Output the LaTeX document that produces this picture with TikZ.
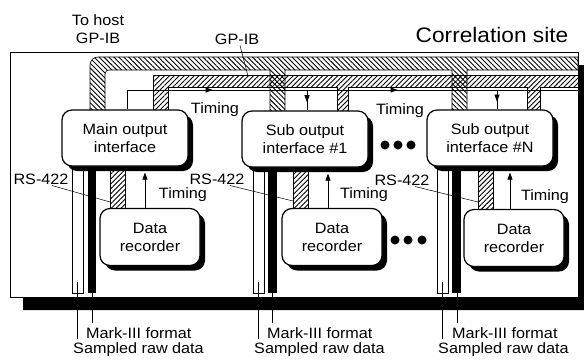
\documentclass[tikz,border=0pt]{standalone}
\usepackage{fontspec}
\setmainfont{Liberation Sans}[FakeStretch=1.08]
\usetikzlibrary{arrows.meta,patterns.meta,shadows,decorations.markings,backgrounds}
\newcommand{\diagfont}{\fontsize{15}{18}\selectfont}

\begin{document}
\begin{tikzpicture}[x=1pt,y=-1pt,>={Triangle[length=7pt,width=5pt]},
  iface/.style={draw,line width=1.2pt,rounded corners=10pt,fill=white,align=center,minimum width=126pt,minimum height=56pt,font=\diagfont,
    drop shadow={shadow xshift=5pt,shadow yshift=-5pt,fill=black,opacity=1}},
  rec/.style={iface,minimum width=100pt,minimum height=57pt},
  lbl/.style={inner sep=1pt,font=\diagfont,align=center},
  wire/.style={line width=.7pt},
  lead/.style={line width=.5pt},
  outerbus/.style={draw,line width=.6pt,pattern={Lines[angle=-45,distance=3.5pt,line width=.9pt]}},
  innerbus/.style={draw,line width=.6pt,pattern={Lines[angle=45,distance=3.5pt,line width=.9pt]}},
  midarr/.style={postaction={decorate},decoration={markings,mark=at position #1 with {\arrow{Triangle[length=7pt,width=5pt]}}}}]
\useasboundingbox (0,0) rectangle (584,359);
% interfaces and recorders
\node[iface] (main) at (125,138) {Main output\\interface};
\node[iface] (sub1) at (305,139) {Sub output\\interface \#1};
\node[iface] (subN) at (490,138) {Sub output\\interface \#N};
\node[rec] (rec1) at (150,237) {Data\\recorder};
\node[rec] (rec2) at (332,237) {Data\\recorder};
\node[rec] (recN) at (514,238) {Data\\recorder};
\coordinate (tl) at (127,90);
\coordinate (tr) at (578,90);
\coordinate (d1) at (307,90);
\coordinate (dN) at (497,90);
\begin{scope}[on background layer]
% site frame with shadow
\fill (578,65) -- (584,65) -- (584,310) -- (23,310) -- (23,297) -- (578,297) -- cycle;
\draw[line width=.8pt] (10,52) rectangle (578,297);
% GP-IB buses
\draw[outerbus] (90,112) [rounded corners=8pt] -- (90,57) [sharp corners] -- (578,57) -- (578,70) -- (467,70) -- (467,112) -- (452,112) -- (452,70)
  -- (285,70) -- (285,112) -- (270,112) -- (270,70) [rounded corners=4pt] -- (105,70) [sharp corners] -- (105,112) -- cycle;
\draw[innerbus] (153,112) -- (153,75) -- (578,75) -- (578,87) -- (540,87) -- (540,112) -- (527,112) -- (527,87)
  -- (348,87) -- (348,112) -- (337,112) -- (337,87) -- (168,87) -- (168,112) -- cycle;
% raw data, Mark-III and RS-422 lines
\draw[lead,fill=white] (72,160) rectangle (83,293);
\fill (88,160) rectangle (96,293);
\draw[innerbus] (110,160) rectangle (125,212);
\draw[lead,fill=white] (253,160) rectangle (264,293);
\fill (268,160) rectangle (277,293);
\draw[innerbus] (293,160) rectangle (308,212);
\draw[lead,fill=white] (437,160) rectangle (448,293);
\fill (452,160) rectangle (461,293);
\draw[innerbus] (478,160) rectangle (493,212);
% timing line
\draw[wire] (main.north -| tl) -- (tl);
\draw[wire,postaction={decorate},decoration={markings,
  mark=at position .19 with {\arrow{Triangle[length=7pt,width=5pt]}},
  mark=at position .6 with {\arrow{Triangle[length=7pt,width=5pt]}}}] (tl) -- (tr);
\end{scope}
\draw[wire,midarr=.6] (d1) -- (d1 |- sub1.north);
\draw[wire,midarr=.6] (dN) -- (dN |- subN.north);
\draw[wire,->,shorten >=6pt] ([xshift=-5pt]rec1.north) -- ([xshift=-5pt]rec1.north |- main.south);
\draw[wire,->,shorten >=6pt] ([xshift=-4pt]rec2.north) -- ([xshift=-4pt]rec2.north |- sub1.south);
\draw[wire,->,shorten >=6pt] ([xshift=-4pt]recN.north) -- ([xshift=-4pt]recN.north |- subN.south);
% dots
\fill (385,145) circle[radius=4.5] (398,145) circle[radius=4.5] (411,145) circle[radius=4.5];
\fill (395,240) circle[radius=4.5] (408,240) circle[radius=4.5] (422,240) circle[radius=4.5];
% labels
\node[lbl] (host) at (98,29) {To host\\GP-IB};
\node[lbl] (gpib) at (237,39) {GP-IB};
\coordinate (gpin) at (248,76);
\draw[lead] ([xshift=3pt]gpib.south) -- (gpin);
\node[font=\fontsize{21}{25}\selectfont] (site) at (492,35) {Correlation site};
\node[lbl] (tm1) at (215,110) {Timing};
\node[lbl] (tm2) at (400,111) {Timing};
\node[lbl] (tr1) at (183,195) {Timing};
\node[lbl] (tr2) at (364,195) {Timing};
\node[lbl] (trN) at (545,197) {Timing};
\node[lbl] (rs1) at (41,179) {RS-422};
\node[lbl] (rs2) at (217,179) {RS-422};
\node[lbl] (rsN) at (402,180) {RS-422};
\coordinate (h1) at (110,202);
\coordinate (h2) at (293,201);
\coordinate (hN) at (478,202);
\draw[lead] ([xshift=11pt]rs1.south) -- (h1);
\draw[lead] ([xshift=13pt]rs2.south) -- (h2);
\draw[lead] ([xshift=13pt]rsN.south) -- (hN);
\node[lbl,anchor=west] (mk1) at (85,333) {Mark-III format};
\node[lbl,anchor=west] (sr1) at (72,350) {Sampled raw data};
\node[lbl,anchor=west] (mk2) at (266,333) {Mark-III format};
\node[lbl,anchor=west] (sr2) at (253,350) {Sampled raw data};
\node[lbl,anchor=west] (mkN) at (451,333) {Mark-III format};
\node[lbl,anchor=west] (srN) at (437,350) {Sampled raw data};
\coordinate (w1) at (77,282);
\coordinate (b1) at (92,293);
\coordinate (w2) at (258,282);
\coordinate (b2) at (272,293);
\coordinate (wN) at (442,282);
\coordinate (bN) at (457,293);
\draw[lead] (w1) -- ([yshift=3pt]w1 |- sr1.north);
\draw[lead] (b1) -- ([yshift=3pt]b1 |- mk1.north);
\draw[lead] (w2) -- ([yshift=3pt]w2 |- sr2.north);
\draw[lead] (b2) -- ([yshift=3pt]b2 |- mk2.north);
\draw[lead] (wN) -- ([yshift=3pt]wN |- srN.north);
\draw[lead] (bN) -- ([yshift=3pt]bN |- mkN.north);
\end{tikzpicture}
\end{document}
